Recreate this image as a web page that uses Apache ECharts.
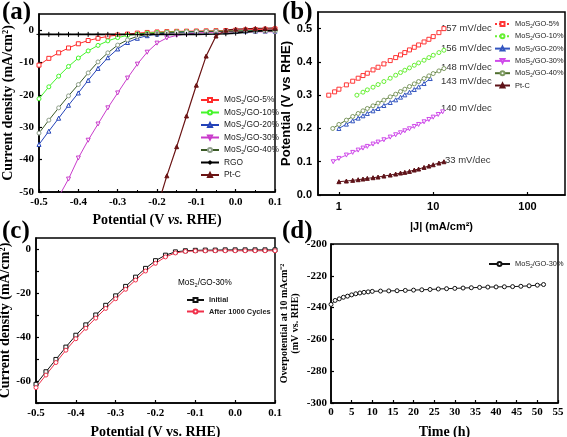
<!DOCTYPE html>
<html><head><meta charset="utf-8">
<script src="https://cdn.jsdelivr.net/npm/echarts/dist/echarts.min.js"></script>
<style>html,body{margin:0;padding:0;background:#fff}#c{width:567px;height:437px}</style>
</head><body><div id="c"></div>
<script>
// ---------- Panel (a): LSV curves ----------
const aV = [-0.5,-0.475,-0.45,-0.425,-0.4,-0.375,-0.35,-0.325,-0.3,-0.275,-0.25,-0.225,-0.2,-0.175,-0.15,-0.125,-0.1,-0.075,-0.05,-0.025,0,0.025,0.05,0.075,0.1];
const aGO5  = [-10.8,-8.7,-7.0,-5.5,-4.2,-3.2,-2.5,-1.9,-1.5,-1.2,-0.9,-0.7,-0.55,-0.45,-0.35,-0.3,-0.25,-0.2,-0.15,-0.1,0,0.1,0.2,0.3,0.4];
const aGO10 = [-21.2,-17.5,-14.2,-11.2,-8.6,-6.4,-4.7,-3.3,-2.3,-1.6,-1.2,-0.9,-0.7,-0.6,-0.5,-0.45,-0.4,-0.35,-0.3,-0.3,-0.25,-0.2,-0.2,-0.2,-0.2];
const aGO20 = [-35.3,-31.2,-27.2,-23.2,-19.4,-15.5,-11.8,-8.5,-5.8,-3.8,-2.5,-1.7,-1.2,-0.9,-0.7,-0.6,-0.5,-0.45,-0.4,-0.4,-0.35,-0.3,-0.3,-0.3,-0.3];
const aGO30 = [null,null,-51.5,-46,-39.5,-34,-29,-24,-19.4,-14.8,-10.5,-6.8,-4,-2.4,-1.6,-1.2,-0.9,-0.7,-0.6,-0.55,-0.5,-0.5,-0.5,-0.5,-0.5];
const aGO40 = [-31.8,-27.8,-24,-20.3,-16.8,-13.2,-9.8,-7,-4.6,-3,-1.9,-1.3,-0.9,-0.7,-0.6,-0.5,-0.45,-0.4,-0.4,-0.35,-0.3,-0.3,-0.3,-0.3,-0.3];
const aRGO  = [-1.3,-1.3,-1.3,-1.3,-1.3,-1.3,-1.3,-1.3,-1.3,-1.3,-1.3,-1.3,-1.3,-1.3,-1.3,-1.3,-1.3,-1.25,-1.2,-1.1,-0.9,-0.6,-0.3,-0.1,0];
const aPtC  = [null,null,null,null,null,null,null,null,null,null,null,null,-55,-45,-36,-26.5,-17,-8,-1.8,0,0.3,0.45,0.55,0.6,0.7];
const aNames = ['MoS2/GO-5%','MoS2/GO-10%','MoS2/GO-20%','MoS2/GO-30%','MoS2/GO-40%','RGO','Pt-C'];

// ---------- Panel (b): Tafel plots ----------
const bJ5  = [0.78,0.9,1.0,1.2,1.4,1.6,1.8,2.0,2.3,2.6,3.0,3.5,4.0,4.5,5.0,5.6,6.3,7.0,8.0,9.0,10,11.5,13];
const bV5  = [0.300,0.310,0.318,0.331,0.342,0.351,0.359,0.366,0.376,0.384,0.394,0.404,0.413,0.421,0.428,0.436,0.444,0.451,0.460,0.468,0.476,0.488,0.500];
const bJ10 = [1.55,1.8,2.0,2.3,2.6,3.0,3.5,4.0,4.5,5.0,5.6,6.3,7.0,8.0,9.0,10,11.5,13];
const bV10 = [0.300,0.309,0.316,0.324,0.332,0.341,0.351,0.360,0.368,0.375,0.382,0.390,0.397,0.405,0.413,0.420,0.428,0.435];
const bJ20 = [1.0,1.2,1.4,1.6,1.8,2.0,2.3,2.6,3.0,3.5,4.0,4.5,5.0,5.6,6.3,7.0,8.0,9.3];
const bV20 = [0.200,0.213,0.223,0.231,0.238,0.245,0.253,0.260,0.269,0.278,0.286,0.294,0.301,0.309,0.317,0.325,0.335,0.350];
const bJ30 = [0.87,1.0,1.2,1.4,1.6,1.8,2.0,2.3,2.6,3.0,3.5,4.0,4.5,5.0,5.6,6.3,7.0,8.0,9.0,10,11.3,12.6];
const bV30 = [0.100,0.110,0.120,0.128,0.135,0.141,0.146,0.153,0.159,0.166,0.174,0.181,0.187,0.193,0.199,0.206,0.212,0.220,0.227,0.234,0.242,0.250];
const bJ40 = [0.86,1.0,1.2,1.4,1.6,1.8,2.0,2.3,2.6,3.0,3.5,4.0,4.5,5.0,5.6,6.3,7.0,8.0,9.0,10,11.5,13];
const bV40 = [0.200,0.212,0.225,0.236,0.245,0.253,0.260,0.268,0.276,0.285,0.295,0.303,0.311,0.318,0.326,0.334,0.341,0.350,0.358,0.365,0.373,0.380];
const bJPt = [1.0,1.2,1.4,1.6,1.8,2.0,2.3,2.6,3.0,3.5,4.0,4.5,5.0,5.6,6.3,7.0,8.0,9.0,10,11.5,13];
const bVPt = [0.040,0.042,0.044,0.046,0.048,0.050,0.052,0.054,0.057,0.060,0.063,0.066,0.068,0.071,0.075,0.078,0.083,0.087,0.091,0.096,0.100];
const bSlopes = ['157 mV/dec','156 mV/dec','148 mV/dec','143 mV/dec','140 mV/dec','33 mV/dec'];
const bNames = ['MoS2/GO-5% ','MoS2/GO-10% ','MoS2/GO-20% ','MoS2/GO-30% ','MoS2/GO-40% ','Pt-C '];

// ---------- Panel (c): stability ----------
const cInit  = [-61.5,-55.8,-50.2,-44.6,-39.2,-34.5,-30,-25.6,-21.3,-17,-12.8,-8.8,-5.3,-2.8,-1.3,-0.8,-0.6,-0.5,-0.5,-0.4,-0.4,-0.4,-0.4,-0.4,-0.4];
const cAfter = [-63,-57.3,-51.6,-46,-40.8,-36,-31.4,-27,-22.6,-18.3,-14.1,-10,-6.5,-3.6,-1.8,-1.1,-0.9,-0.85,-0.8,-0.8,-0.8,-0.8,-0.8,-0.8,-0.8];
const cNames = ['Initial','After 1000 Cycles'];

// ---------- Panel (d): chronopotentiometry ----------
const dT = [0,1,2,3,4,5,6,7,8,9,10,12,14,16,18,20,22,24,26,28,30,32,34,36,38,40,42,44,46,48,50,51.5];
const dE = [-238,-235.5,-234.5,-233.5,-232.8,-232,-231.3,-230.8,-230.4,-230.1,-229.8,-229.6,-229.5,-229.4,-229.2,-229.0,-228.8,-228.6,-228.3,-228.1,-227.9,-227.7,-227.5,-227.3,-227.1,-227.0,-226.9,-226.8,-226.6,-226.3,-225.9,-225.5];
const dName = 'MoS2/GO-30%  ';

const SERIF = 'Liberation Serif', SANS = 'Liberation Sans';
const zip = (x, y) => x.map((v, i) => [v, y[i]]);
const subFmt = n => n.trim().replace('MoS2', 'MoS{s|2}');

function ser(name, x, y, color, symbol, gi, o) {
  o = o || {};
  return {
    type: 'line', name, xAxisIndex: gi, yAxisIndex: gi,
    data: zip(x, y), symbol, symbolSize: o.size || 4, symbolRotate: o.rot || 0,
    showAllSymbol: true, connectNulls: false, animation: false, clip: true,
    lineStyle: { color, width: o.lw || 1, type: o.dash || 'solid' },
    itemStyle: { color: o.fill || '#fff', borderColor: o.mcolor || color, borderWidth: 1 }
  };
}

const serifLabel = { fontFamily: SERIF, fontWeight: 'bold', fontSize: 11, color: '#000', margin: 5 };
const sansLabel = { fontFamily: SANS, fontWeight: 'bold', fontSize: 11, color: '#000', margin: 6 };
const tick = { show: true, inside: true, length: 3, lineStyle: { color: '#000', width: 1.2 } };
const aline = { show: true, onZero: false, lineStyle: { color: '#000', width: 1.5 } };
const gridBase = { show: true, borderColor: '#000', borderWidth: 1.5, containLabel: false, outerBoundsMode: 'none' };

const plus = 'path://M0,5L10,5M5,0L5,10';

const series = [
  ser(aNames[0], aV, aGO5, '#FF2B2B', 'rect', 0),
  ser(aNames[1], aV, aGO10, '#45F52A', 'circle', 0),
  ser(aNames[2], aV, aGO20, '#2443B8', 'triangle', 0),
  ser(aNames[3], aV, aGO30, '#C93BCB', 'triangle', 0, { rot: 180 }),
  ser(aNames[4], aV, aGO40, '#3B5A27', 'circle', 0, { mcolor: '#8FA08A' }),
  ser(aNames[5], aV, aRGO, '#000000', plus, 0, { lw: 1.6, size: 5 }),
  ser(aNames[6], aV, aPtC, '#6B1414', 'triangle', 0, { fill: '#6B1414', lw: 1.2 }),

  ser(bNames[0], bJ5, bV5, '#FF3535', 'rect', 1, { dash: 'dotted' }),
  ser(bNames[1], bJ10, bV10, '#66F032', 'circle', 1, { dash: 'dotted' }),
  ser(bNames[2], bJ20, bV20, '#3456C0', 'triangle', 1),
  ser(bNames[3], bJ30, bV30, '#CF4AEA', 'triangle', 1, { rot: 180 }),
  ser(bNames[4], bJ40, bV40, '#4F6E2E', 'circle', 1, { mcolor: '#7E9A62' }),
  ser(bNames[5], bJPt, bVPt, '#5E1218', 'triangle', 1, { fill: '#5E1218' }),

  ser(cNames[0], aV, cInit, '#111111', 'rect', 2),
  ser(cNames[1], aV, cAfter, '#F0304A', 'circle', 2),

  ser(dName, dT, dE, '#111111', 'circle', 3)
];

function legendText(fs, bold) {
  return { fontFamily: SANS, fontSize: fs, fontWeight: bold ? 'bold' : 'normal', color: '#222', lineHeight: 10,
    rich: { s: { fontFamily: SANS, fontSize: fs * 0.62, fontWeight: bold ? 'bold' : 'normal', color: '#222', verticalAlign: 'bottom', lineHeight: 6 } } };
}

const slopeFont = '9.5px "Liberation Sans"';

const option = {
  animation: false,
  backgroundColor: '#fff',
  grid: [
    Object.assign({ left: 39, top: 14, width: 236, height: 178 }, gridBase),
    Object.assign({ left: 318, top: 12, width: 247, height: 183 }, gridBase),
    Object.assign({ left: 36, top: 238, width: 239, height: 165 }, gridBase),
    Object.assign({ left: 331, top: 244, width: 227, height: 159 }, gridBase)
  ],
  xAxis: [
    { gridIndex: 0, type: 'value', min: -0.5, max: 0.1, interval: 0.1,
      axisLine: aline, axisTick: tick, minorTick: { show: true, splitNumber: 2, length: 2, lineStyle: { color: '#000' } },
      splitLine: { show: false },
      axisLabel: Object.assign({ formatter: v => v.toFixed(1) }, serifLabel),
      name: 'Potential (V {i|vs.} RHE)', nameLocation: 'middle', nameGap: 21,
      nameTextStyle: { fontFamily: SERIF, fontWeight: 'bold', fontSize: 14, color: '#000',
        rich: { i: { fontFamily: SERIF, fontWeight: 'bold', fontStyle: 'italic', fontSize: 14, color: '#000' } } } },
    { gridIndex: 1, type: 'log', logBase: 10, min: 0.6, max: 250,
      axisLine: aline, axisTick: tick, splitLine: { show: false },
      axisLabel: Object.assign({ showMinLabel: false, showMaxLabel: false,
        formatter: v => { const l = Math.log10(v); return Math.abs(l - Math.round(l)) < 1e-6 ? String(Math.round(v)) : ''; } }, sansLabel),
      name: '|J| (mA/cm²)', nameLocation: 'middle', nameGap: 26,
      nameTextStyle: { fontFamily: SANS, fontWeight: 'bold', fontSize: 11, color: '#000' } },
    { gridIndex: 2, type: 'value', min: -0.5, max: 0.1, interval: 0.1,
      axisLine: aline, axisTick: tick, splitLine: { show: false },
      axisLabel: Object.assign({ formatter: v => v.toFixed(1) }, serifLabel),
      name: 'Potential (V vs. RHE)', nameLocation: 'middle', nameGap: 22,
      nameTextStyle: { fontFamily: SERIF, fontWeight: 'bold', fontSize: 14, color: '#000' } },
    { gridIndex: 3, type: 'value', min: 0, max: 55, interval: 5,
      axisLine: aline, axisTick: tick, splitLine: { show: false },
      axisLabel: Object.assign({}, serifLabel, { margin: 4 }),
      name: 'Time (h)', nameLocation: 'middle', nameGap: 22,
      nameTextStyle: { fontFamily: SERIF, fontWeight: 'bold', fontSize: 14, color: '#000' } }
  ],
  yAxis: [
    { gridIndex: 0, type: 'value', min: -50, max: 5, interval: 10,
      axisLine: aline, axisTick: tick, splitLine: { show: false },
      axisLabel: Object.assign({ showMaxLabel: false, formatter: v => v > 0.5 ? '' : String(Math.round(v)) }, serifLabel),
      name: 'Current density (mA/cm²)', nameLocation: 'middle', nameGap: 24,
      nameTextStyle: { fontFamily: SERIF, fontWeight: 'bold', fontSize: 14, color: '#000' } },
    { gridIndex: 1, type: 'value', min: 0, max: 0.55, interval: 0.1,
      axisLine: aline, axisTick: tick, splitLine: { show: false },
      axisLabel: Object.assign({ showMaxLabel: false, formatter: v => v > 0.52 ? '' : v.toFixed(1) }, sansLabel),
      name: 'Potential (V vs RHE)', nameLocation: 'middle', nameGap: 25,
      nameTextStyle: { fontFamily: SANS, fontWeight: 'bold', fontSize: 13, color: '#000' } },
    { gridIndex: 2, type: 'value', min: -70, max: 5, interval: 10,
      axisLine: aline, axisTick: tick, splitLine: { show: false },
      axisLabel: Object.assign({ showMaxLabel: false, formatter: v => (Math.round(v) % 20 === 0 && v < 1) ? String(Math.round(v)) : '' }, serifLabel),
      name: 'Current density (mA/cm²)', nameLocation: 'middle', nameGap: 24,
      nameTextStyle: { fontFamily: SERIF, fontWeight: 'bold', fontSize: 14, color: '#000' } },
    { gridIndex: 3, type: 'value', min: -300, max: -200, interval: 20,
      axisLine: aline, axisTick: tick, splitLine: { show: false },
      axisLabel: Object.assign({}, serifLabel, { margin: 4 }),
      name: 'Overpotential at 10 mAcm⁻²\n(mV vs. RHE)', nameLocation: 'middle', nameGap: 30,
      nameTextStyle: { fontFamily: SERIF, fontWeight: 'bold', fontSize: 10, color: '#000', lineHeight: 11 } }
  ],
  legend: [
    { data: aNames, orient: 'vertical', left: 195, top: 90, itemWidth: 18, itemHeight: 5, itemGap: 2.5, formatter: subFmt, textStyle: legendText(8.4), selectedMode: false },
    { data: bNames, orient: 'vertical', left: 489, top: 14, itemWidth: 15, itemHeight: 5, itemGap: 2.3, formatter: subFmt, textStyle: legendText(7.4), selectedMode: false },
    { data: cNames, orient: 'vertical', left: 181, top: 290, itemWidth: 17, itemHeight: 5, itemGap: 1.5, textStyle: legendText(7.4, true), selectedMode: false },
    { data: [dName], left: 483, top: 254, itemWidth: 21, itemHeight: 5, itemGap: 2, formatter: subFmt, textStyle: legendText(7.4), selectedMode: false }
  ],
  graphic: [
    { type: 'text', left: 2, top: 0, style: { text: '(a)', font: 'bold 25px "Liberation Serif"', fill: '#000' } },
    { type: 'text', left: 282, top: 0, style: { text: '(b)', font: 'bold 25px "Liberation Serif"', fill: '#000' } },
    { type: 'text', left: 2, top: 219, style: { text: '(c)', font: 'bold 25px "Liberation Serif"', fill: '#000' } },
    { type: 'text', left: 282, top: 219, style: { text: '(d)', font: 'bold 25px "Liberation Serif"', fill: '#000' } },
    { type: 'text', left: 441, top: 23, style: { text: bSlopes[0], font: slopeFont, fill: '#333' } },
    { type: 'text', left: 441, top: 43, style: { text: bSlopes[1], font: slopeFont, fill: '#333' } },
    { type: 'text', left: 441, top: 62, style: { text: bSlopes[2], font: slopeFont, fill: '#333' } },
    { type: 'text', left: 441, top: 76, style: { text: bSlopes[3], font: slopeFont, fill: '#333' } },
    { type: 'text', left: 441, top: 103, style: { text: bSlopes[4], font: slopeFont, fill: '#333' } },
    { type: 'text', left: 445, top: 155, style: { text: bSlopes[5], font: slopeFont, fill: '#333' } },
    { type: 'text', left: 178, top: 278, style: Object.assign({ text: subFmt('MoS2/GO-30%') }, legendText(8.2)) }
  ],
  series
};

const chart = echarts.init(document.getElementById('c'), null, { renderer: 'canvas' });
chart.setOption(option);
</script></body></html>
